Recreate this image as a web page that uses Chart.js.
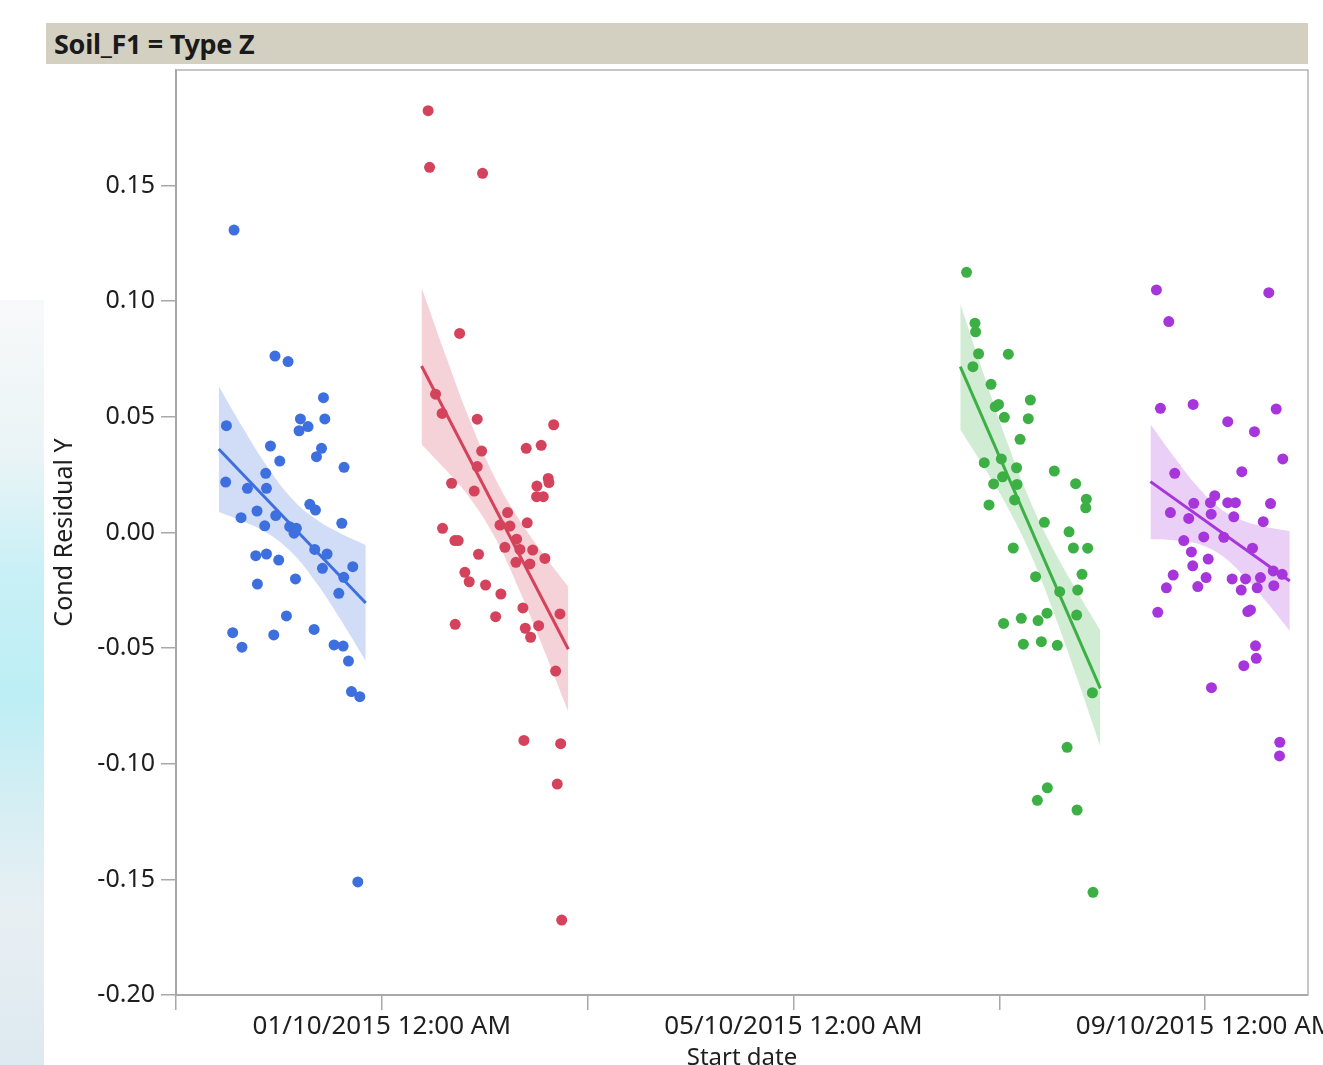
<!DOCTYPE html>
<html>
<head>
<meta charset="utf-8">
<script src="https://cdn.jsdelivr.net/npm/chart.js@4.4.1/dist/chart.umd.min.js"></script>
<style>
  html, body { margin: 0; padding: 0; background: #ffffff; }
  body { width: 1323px; height: 1065px; position: relative; overflow: hidden; }
  #bg-left { position: absolute; left: 0; top: 300px; width: 44px; height: 765px;
    background: linear-gradient(to bottom, #f8f9fa 0%, #eaf4f6 20%, #c8f0f6 36%, #bdeef5 52%, #d5eef3 66%, #e8eff3 80%, #dde9f0 100%); z-index: 0; }
  #header { position: absolute; left: 46px; top: 23px; width: 1262px; height: 41px; background: #d4d0c1;
    font-family: "Noto Sans", "DejaVu Sans", sans-serif; font-weight: bold; font-size: 27px; color: #1a1a1a;
    line-height: 41px; padding-left: 8px; box-sizing: border-box; z-index: 1; letter-spacing: -0.3px; }
  #chart { position: absolute; left: 0; top: 0; z-index: 2; }
</style>
</head>
<body>
<div id="bg-left"></div>
<div id="header">Soil_F1 = Type Z</div>
<canvas id="chart" width="1323" height="1065"></canvas>
<script>
// ---- Data (x = days since 01/10/2015 00:00, y = Cond Residual Y) ----
const xTickValues = [0, 4, 8];
const xTickLabels = ['01/10/2015 12:00 AM', '05/10/2015 12:00 AM', '09/10/2015 12:00 AM'];
const yTickFormat = 2;

const blueDays  = [-1.436,-1.038,-0.911,-0.567,-1.510,-0.791,-0.554,-0.717,-0.804,-1.082,-0.586,-0.635,-0.992,-0.367,-1.517,-1.128,-1.306,-1.121,-0.700,-0.645,-1.368,-1.213,-1.138,-1.031,-0.389,-0.895,-0.830,-0.853,-0.652,-0.532,-1.225,-1.121,-1.002,-0.577,-0.282,-0.370,-1.209,-0.839,-0.418,-0.927,-1.449,-1.359,-1.050,-0.658,-0.464,-0.376,-0.324,-0.295,-0.214,-0.233];
const blueResid = [0.1308,0.0763,0.0739,0.0583,0.0462,0.0491,0.0491,0.0458,0.0440,0.0374,0.0364,0.0328,0.0309,0.0282,0.0218,0.0256,0.0191,0.0191,0.0122,0.0097,0.0064,0.0093,0.0029,0.0073,0.0040,0.0025,0.0018,-0.0003,-0.0073,-0.0093,-0.0100,-0.0093,-0.0119,-0.0155,-0.0148,-0.0194,-0.0223,-0.0201,-0.0263,-0.0361,-0.0433,-0.0496,-0.0443,-0.0419,-0.0486,-0.0491,-0.0556,-0.0688,-0.0710,-0.1511];

const redDays  = [0.450,0.464,0.979,0.756,0.522,0.586,0.927,1.670,1.403,1.549,0.970,0.927,0.678,1.617,1.624,1.507,0.898,1.504,1.569,1.222,0.590,1.148,1.245,1.413,0.710,0.742,1.310,1.196,1.342,1.466,0.940,1.585,1.303,1.439,0.807,0.849,1.008,1.157,1.371,1.731,1.106,0.713,1.394,1.524,1.446,1.689,1.381,1.738,1.705,1.748];
const redResid = [0.1824,0.1579,0.1553,0.0861,0.0598,0.0515,0.0490,0.0466,0.0364,0.0377,0.0352,0.0285,0.0213,0.0234,0.0216,0.0201,0.0179,0.0155,0.0155,0.0086,0.0018,0.0032,0.0028,0.0042,-0.0035,-0.0035,-0.0029,-0.0064,-0.0073,-0.0076,-0.0094,-0.0112,-0.0129,-0.0136,-0.0172,-0.0213,-0.0227,-0.0266,-0.0326,-0.0352,-0.0364,-0.0397,-0.0414,-0.0403,-0.0453,-0.0599,-0.0899,-0.0913,-0.1088,-0.1676];

const greenDays  = [5.682,5.764,5.770,5.799,6.088,5.744,5.920,6.302,5.961,5.993,6.049,6.282,6.202,5.854,6.020,6.168,6.535,6.032,5.945,6.172,6.742,6.846,6.840,6.149,5.900,6.438,6.678,6.136,6.720,6.859,6.353,6.804,6.587,6.762,6.042,6.214,6.377,6.464,6.752,6.234,6.409,6.564,6.905,6.659,6.467,6.370,6.756,6.911];
const greenResid = [0.1125,0.0905,0.0868,0.0773,0.0771,0.0717,0.0641,0.0573,0.0544,0.0554,0.0498,0.0492,0.0403,0.0302,0.0318,0.0280,0.0266,0.0241,0.0210,0.0208,0.0211,0.0144,0.0107,0.0141,0.0119,0.0044,0.0003,-0.0067,-0.0067,-0.0068,-0.0191,-0.0181,-0.0256,-0.0249,-0.0393,-0.0371,-0.0381,-0.0349,-0.0357,-0.0483,-0.0472,-0.0488,-0.0693,-0.0929,-0.1104,-0.1158,-0.1200,-0.1556];

const purpleDays  = [7.527,8.619,7.647,7.566,7.884,8.691,8.220,8.480,8.755,7.705,8.357,8.094,8.052,7.890,8.220,8.295,8.636,7.663,7.841,8.059,8.279,8.565,7.793,7.987,8.182,8.461,7.867,8.030,7.880,7.690,8.010,8.263,8.393,8.538,8.662,8.749,7.624,7.929,8.351,8.506,8.668,7.540,8.415,8.441,8.490,8.497,8.376,8.062,8.726,8.723];
const purpleResid = [0.1049,0.1037,0.0912,0.0537,0.0554,0.0534,0.0479,0.0436,0.0318,0.0256,0.0263,0.0159,0.0129,0.0126,0.0129,0.0129,0.0125,0.0086,0.0061,0.0079,0.0068,0.0047,-0.0035,-0.0019,-0.0021,-0.0068,-0.0084,-0.0115,-0.0144,-0.0184,-0.0195,-0.0201,-0.0201,-0.0195,-0.0166,-0.0181,-0.0239,-0.0234,-0.0249,-0.0239,-0.0230,-0.0345,-0.0342,-0.0335,-0.0490,-0.0544,-0.0576,-0.0671,-0.0907,-0.0966];

// Fitted lines (end points) and confidence bands
const blueFitDays = [-1.585, -0.156];   const blueFitResid = [0.0361, -0.0305];
const redFitDays = [0.386, 1.812];      const redFitResid = [0.0720, -0.0505];
const greenFitDays = [5.621, 6.982];    const greenFitResid = [0.0717, -0.0674];
const purpleFitDays = [7.469, 8.823];   const purpleFitResid = [0.0220, -0.0210];

const blueBandDays  = [-1.585,-1.347,-1.109,-0.870,-0.632,-0.394,-0.156];
const blueBandUpper = [0.0634,0.0451,0.0282,0.0145,0.0055,-0.0005,-0.0054];
const blueBandLower = [0.0089,0.0048,-0.0003,-0.0089,-0.0221,-0.0382,-0.0556];

const redBandDays  = [0.386,0.623,0.862,1.099,1.336,1.574,1.812];
const redBandUpper = [0.1059,0.0762,0.0478,0.0237,0.0055,-0.0096,-0.0235];
const redBandLower = [0.0381,0.0270,0.0145,-0.0022,-0.0249,-0.0506,-0.0775];

const greenBandDays  = [5.621,5.848,6.075,6.302,6.528,6.756,6.982];
const greenBandUpper = [0.0989,0.0685,0.0393,0.0134,-0.0075,-0.0255,-0.0423];
const greenBandLower = [0.0445,0.0285,0.0114,-0.0091,-0.0345,-0.0629,-0.0925];

const purpleBandDays  = [7.469,7.694,7.920,8.146,8.372,8.598,8.823];
const purpleBandUpper = [0.0468,0.0330,0.0202,0.0104,0.0051,0.0024,0.0006];
const purpleBandLower = [-0.0029,-0.0033,-0.0048,-0.0095,-0.0185,-0.0301,-0.0426];

// ---- Styles ----
const groups = [
  { days: blueDays, resid: blueResid, fitD: blueFitDays, fitR: blueFitResid, bD: blueBandDays, bU: blueBandUpper, bL: blueBandLower, color: '#3d6fdf', band: 'rgba(61,111,223,0.24)' },
  { days: redDays, resid: redResid, fitD: redFitDays, fitR: redFitResid, bD: redBandDays, bU: redBandUpper, bL: redBandLower, color: '#d4425b', band: 'rgba(212,66,91,0.24)' },
  { days: greenDays, resid: greenResid, fitD: greenFitDays, fitR: greenFitResid, bD: greenBandDays, bU: greenBandUpper, bL: greenBandLower, color: '#3cb045', band: 'rgba(60,176,69,0.24)' },
  { days: purpleDays, resid: purpleResid, fitD: purpleFitDays, fitR: purpleFitResid, bD: purpleBandDays, bU: purpleBandUpper, bL: purpleBandLower, color: '#a636dc', band: 'rgba(166,54,220,0.24)' }
];

const zip = (xs, ys) => xs.map((x, i) => ({ x: x, y: ys[i] }));

const datasets = [];
groups.forEach(g => {
  datasets.push({ type: 'scatter', data: zip(g.days, g.resid), backgroundColor: g.color, borderColor: g.color,
    borderWidth: 0, pointRadius: 5.5, order: 0 });
});
groups.forEach(g => {
  datasets.push({ type: 'line', data: zip(g.fitD, g.fitR), borderColor: g.color, borderWidth: 3,
    pointRadius: 0, fill: false, order: 1 });
});
groups.forEach(g => {
  const idx = datasets.length;
  datasets.push({ type: 'line', data: zip(g.bD, g.bU), borderWidth: 0, borderColor: 'rgba(0,0,0,0)',
    backgroundColor: g.band, pointRadius: 0, tension: 0.4, fill: { target: idx + 1 }, order: 2 });
  datasets.push({ type: 'line', data: zip(g.bD, g.bL), borderWidth: 0, borderColor: 'rgba(0,0,0,0)',
    pointRadius: 0, tension: 0.4, fill: false, order: 2 });
});

const frameColor = '#a8a8a8';
const framePlugin = {
  id: 'frame',
  beforeDatasetsDraw(chart) {
    const { ctx, chartArea: a } = chart;
    ctx.save();
    ctx.strokeStyle = '#b4b4b4';
    ctx.lineWidth = 1.5;
    ctx.beginPath();
    ctx.moveTo(a.left, a.top);
    ctx.lineTo(a.right, a.top);
    ctx.lineTo(a.right, a.bottom);
    ctx.stroke();
    ctx.restore();
  }
};

Chart.defaults.font.family = '"Noto Sans", "DejaVu Sans", sans-serif';

new Chart(document.getElementById('chart'), {
  type: 'scatter',
  data: { datasets: datasets },
  plugins: [framePlugin],
  options: {
    responsive: false,
    animation: false,
    devicePixelRatio: 1,
    events: [],
    layout: { padding: { top: 70, right: 15, left: 0, bottom: 0 } },
    plugins: { legend: { display: false }, tooltip: { enabled: false }, title: { display: false } },
    scales: {
      x: {
        type: 'linear', min: -2, max: 9,
        ticks: {
          stepSize: 2, includeBounds: false, autoSkip: false, maxRotation: 0, minRotation: 0,
          color: '#1e1e1e', font: { size: 26 }, padding: 1,
          callback: (v) => { const i = xTickValues.indexOf(v); return i >= 0 ? xTickLabels[i] : ''; }
        },
        grid: { drawOnChartArea: false, drawTicks: true, tickLength: 15, color: frameColor, lineWidth: 1.5 },
        border: { display: true, color: frameColor, width: 2 },
        title: { display: true, text: 'Start date', color: '#1e1e1e', font: { size: 24 }, padding: { top: 0, bottom: -8 } },
        afterFit: (s) => { s.height = 70; s.paddingLeft = 0; s.paddingRight = 0; }
      },
      y: {
        type: 'linear', min: -0.2, max: 0.2,
        afterBuildTicks: (s) => { s.ticks = s.ticks.filter(t => t.value < 0.19); },
        ticks: {
          stepSize: 0.05, color: '#1e1e1e', font: { size: 25 }, padding: 6,
          callback: (v) => (Math.abs(v) < 1e-9 ? 0 : v).toFixed(yTickFormat)
        },
        grid: { drawOnChartArea: false, drawTicks: true, tickLength: 15, color: frameColor, lineWidth: 1.5 },
        border: { display: true, color: frameColor, width: 2 },
        title: { display: true, text: 'Cond Residual Y', color: '#1e1e1e', font: { size: 25 }, padding: { top: 50, bottom: 0 } },
        afterFit: (s) => { s.width = 176; s.paddingTop = 0; s.paddingBottom = 0; }
      }
    }
  }
});
</script>
</body>
</html>
